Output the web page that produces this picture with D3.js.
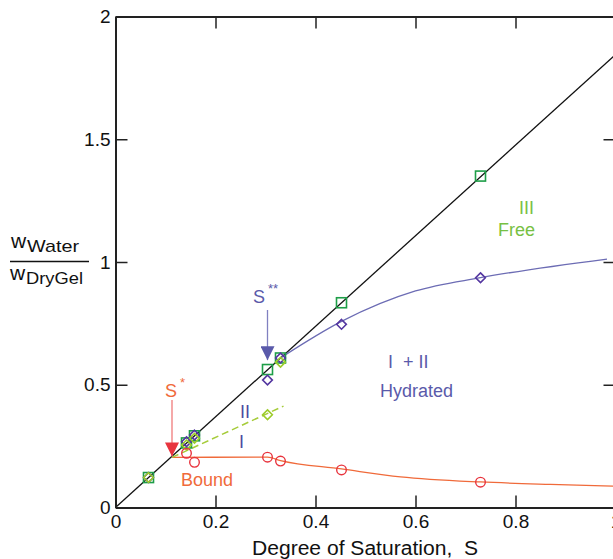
<!DOCTYPE html>
<html>
<head>
<meta charset="UTF-8">
<script src="https://cdnjs.cloudflare.com/ajax/libs/d3/7.8.5/d3.min.js"></script>
<style>
  body { margin: 0; background: #fff; }
  svg { display: block; font-family: "Liberation Sans", Arial, sans-serif; }
</style>
</head>
<body>
<div id="chart"></div>
<script>
// degree of saturation of each sample
const satS = [0.066, 0.142, 0.158, 0.304, 0.33, 0.452, 0.73];
// total water (squares, on the straight line)
const totalW = [0.122, 0.263, 0.292, 0.562, 0.609, 0.834, 1.350];
// hydrated water I + II (dark diamonds)
const hydS = [0.066, 0.142, 0.158, 0.304, 0.33, 0.452, 0.73];
const hydW = [0.122, 0.268, 0.295, 0.519, 0.609, 0.746, 0.936];
// region II water (light green diamonds)
const twoS = [0.066, 0.142, 0.158, 0.304, 0.33];
const twoW = [0.122, 0.255, 0.282, 0.378, 0.592];
// bound water (circles)
const boundS = [0.142, 0.158, 0.304, 0.33, 0.452, 0.73];
const boundW = [0.221, 0.184, 0.205, 0.189, 0.153, 0.103];

// fitted lines
const lineSlope = 1.845;
const hydFitS = [0.33, 0.452, 0.6, 0.73, 0.983];
const hydFitW = [0.609, 0.758, 0.882, 0.936, 1.012];
const boundFitS = [0.113, 0.304, 0.33, 0.452, 0.57, 0.73, 0.87, 1.0];
const boundFitW = [0.204, 0.205, 0.191, 0.157, 0.125, 0.104, 0.094, 0.087];
const twoFitS = [0.113, 0.336];
const twoFitW = [0.204, 0.413];

const xTicks = [0, 0.2, 0.4, 0.6, 0.8, 1];
const yTicks = [0, 0.5, 1, 1.5, 2];

const width = 613, height = 559;
const pLeft = 115.5, pRight = 615.5, pTop = 16.5, pBottom = 507.5;

const svg = d3.select('#chart').append('svg')
    .attr('width', width).attr('height', height);

const x = d3.scaleLinear().domain([0, 1]).range([pLeft, pRight]);
const y = d3.scaleLinear().domain([0, 2]).range([pBottom, pTop]);

const defs = svg.append('defs');
defs.append('clipPath').attr('id', 'clip')
  .append('rect').attr('x', pLeft).attr('y', pTop)
  .attr('width', pRight - pLeft).attr('height', pBottom - pTop);

const plot = svg.append('g').attr('clip-path', 'url(#clip)');

// axes, ticks pointing inward
function styleAxis(g) {
  g.selectAll('.domain').attr('stroke', '#222').attr('stroke-width', 2);
  g.selectAll('.tick line').attr('stroke', '#222').attr('stroke-width', 1.5);
  g.selectAll('.tick text').attr('fill', '#111').attr('font-size', 19)
    .attr('font-family', '"Liberation Sans", Arial, sans-serif');
}
const fmt = d => String(d);
svg.append('g').attr('transform', `translate(0,${pBottom})`)
  .call(d3.axisBottom(x).tickValues(xTicks).tickFormat(fmt).tickSizeInner(-12).tickSizeOuter(0).tickPadding(7))
  .call(styleAxis);
svg.append('g').attr('transform', `translate(0,${pTop})`)
  .call(d3.axisTop(x).tickValues(xTicks).tickFormat('').tickSizeInner(-12).tickSizeOuter(0))
  .call(styleAxis);
svg.append('g').attr('transform', `translate(${pLeft},0)`)
  .call(d3.axisLeft(y).tickValues(yTicks).tickFormat(fmt).tickSizeInner(-12).tickSizeOuter(0).tickPadding(5))
  .call(styleAxis);
svg.append('g').attr('transform', `translate(${pRight},0)`)
  .call(d3.axisRight(y).tickValues(yTicks).tickFormat('').tickSizeInner(-12).tickSizeOuter(0))
  .call(styleAxis);

// lines
const straight = d3.line().x(d => x(d[0])).y(d => y(d[1]));
const smooth = d3.line().x(d => x(d[0])).y(d => y(d[1])).curve(d3.curveMonotoneX);
plot.append('path').datum([[0, 0], [1, lineSlope]])
  .attr('d', straight).attr('fill', 'none').attr('stroke', '#111').attr('stroke-width', 1.3);
plot.append('path').datum(hydFitS.map((s, i) => [s, hydFitW[i]]))
  .attr('d', smooth).attr('fill', 'none')
  .attr('stroke', '#6c6cb4').attr('stroke-width', 1.3);
plot.append('path').datum(boundFitS.map((s, i) => [s, boundFitW[i]]))
  .attr('d', smooth)
  .attr('fill', 'none').attr('stroke', '#f06a3a').attr('stroke-width', 1.3);
plot.append('path').datum(twoFitS.map((s, i) => [s, twoFitW[i]]))
  .attr('d', straight)
  .attr('fill', 'none').attr('stroke', '#a6cc3a').attr('stroke-width', 1.5)
  .attr('stroke-dasharray', '7,4');

// markers
const sq = 10;
plot.selectAll('.sq').data(satS.map((s, i) => [s, totalW[i]])).enter()
  .append('rect').attr('x', d => x(d[0]) - sq / 2).attr('y', d => y(d[1]) - sq / 2)
  .attr('width', sq).attr('height', sq)
  .attr('fill', 'none').attr('stroke', '#1e9e48').attr('stroke-width', 1.6);

const diamond = d3.symbol().type(d3.symbolDiamond2).size(60);
plot.selectAll('.dh').data(hydS.map((s, i) => [s, hydW[i]])).enter()
  .append('path').attr('d', diamond)
  .attr('transform', d => `translate(${x(d[0])},${y(d[1])})`)
  .attr('fill', 'none').attr('stroke', '#5436a0').attr('stroke-width', 1.6);
plot.selectAll('.d2').data(twoS.map((s, i) => [s, twoW[i]])).enter()
  .append('path').attr('d', diamond)
  .attr('transform', d => `translate(${x(d[0])},${y(d[1])})`)
  .attr('fill', 'none').attr('stroke', '#9ccc2a').attr('stroke-width', 1.6);
plot.selectAll('.cb').data(boundS.map((s, i) => [s, boundW[i]])).enter()
  .append('circle').attr('cx', d => x(d[0])).attr('cy', d => y(d[1])).attr('r', 4.8)
  .attr('fill', 'none').attr('stroke', '#e8343e').attr('stroke-width', 1.4);

// arrows for S* and S**
function arrowHead(id, color) {
  defs.append('marker').attr('id', id).attr('viewBox', '0 0 10 10')
    .attr('refX', 10).attr('refY', 5).attr('markerWidth', 14).attr('markerHeight', 14)
    .attr('markerUnits', 'userSpaceOnUse').attr('orient', 'auto')
    .append('path').attr('d', 'M0,0 L10,5 L0,10 Z').attr('fill', color);
}
arrowHead('arrRed', '#e8343e');
arrowHead('arrBlue', '#5a5aaa');
svg.append('line').attr('x1', x(0.113)).attr('x2', x(0.113))
  .attr('y1', 400).attr('y2', y(0.204) - 1)
  .attr('stroke', '#f07a7a').attr('stroke-width', 1.3).attr('marker-end', 'url(#arrRed)');
svg.append('line').attr('x1', x(0.304)).attr('x2', x(0.304))
  .attr('y1', 310).attr('y2', y(0.60))
  .attr('stroke', '#8080c0').attr('stroke-width', 1.3).attr('marker-end', 'url(#arrBlue)');

// labels
function label(tx, ty, txt, color, anchor) {
  return svg.append('text').attr('x', tx).attr('y', ty).attr('fill', color)
    .attr('font-size', 18).attr('text-anchor', anchor || 'start').text(txt);
}
const sStar = label(165, 397, 'S', '#f06a3a');
sStar.append('tspan').attr('dx', 3).attr('dy', -10).attr('font-size', 13).text('*');
const sStar2 = label(253, 303, 'S', '#5a5aaa');
sStar2.append('tspan').attr('dx', 3).attr('dy', -10).attr('font-size', 13).text('**');
label(240, 418, 'II', '#4a4aa0');
label(239, 448, 'I', '#4a4aa0');
label(181, 486, 'Bound', '#f06a3a');
label(388, 368, 'I  + II', '#5a5aaa').style('white-space', 'pre');
label(380, 397, 'Hydrated', '#5a5aaa');
label(519, 214, 'III', '#77c043');
label(498, 236, 'Free', '#77c043');

// y label as a fraction
const yl = svg.append('g').attr('fill', '#111');
yl.append('text').attr('x', 11).attr('y', 248).attr('font-size', 21).text('w');
yl.append('text').attr('x', 27).attr('y', 252).attr('font-size', 17)
  .attr('textLength', 52).attr('lengthAdjust', 'spacingAndGlyphs').text('Water');
yl.append('line').attr('x1', 10).attr('x2', 89).attr('y1', 261.5).attr('y2', 261.5)
  .attr('stroke', '#111').attr('stroke-width', 1.3);
yl.append('text').attr('x', 10).attr('y', 280).attr('font-size', 21).text('w');
yl.append('text').attr('x', 26).attr('y', 284).attr('font-size', 17)
  .attr('textLength', 57).attr('lengthAdjust', 'spacingAndGlyphs').text('DryGel');

// x title
svg.append('text').attr('x', 252).attr('y', 555).attr('font-size', 19.5).attr('fill', '#111')
  .attr('textLength', 226).attr('lengthAdjust', 'spacingAndGlyphs')
  .style('white-space', 'pre').text('Degree of Saturation,  S');
</script>
</body>
</html>
